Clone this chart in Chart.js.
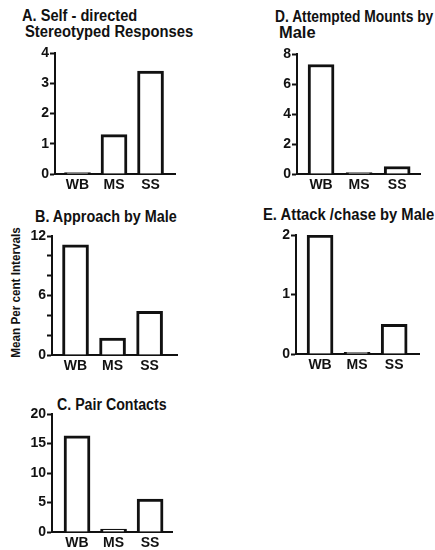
<!DOCTYPE html>
<html>
<head>
<meta charset="utf-8">
<script src="https://cdn.jsdelivr.net/npm/chart.js@4/dist/chart.umd.min.js"></script>
<style>
  html, body { margin: 0; padding: 0; background: #fff; }
  body { width: 435px; height: 550px; position: relative; overflow: hidden;
         font-family: "Liberation Sans", Arial, sans-serif; }
  canvas { position: absolute; }
  .ttl { position: absolute; font-weight: bold; font-size: 16px; line-height: 16px; color: #111;
         white-space: nowrap; transform-origin: 0 50%; }
  .ylab { position: absolute; font-weight: bold; font-size: 13px; line-height: 13px; color: #111; white-space: nowrap; }
</style>
</head>
<body>
<div class="ttl" data-w="115" style="left:22px;top:8px;">A. Self - directed</div>
<div class="ttl" data-w="168" style="left:25px;top:24px;">Stereotyped Responses</div>
<div class="ttl" data-w="158" style="left:275px;top:9px;">D. Attempted Mounts by</div>
<div class="ttl" data-w="37" style="left:279px;top:25px;">Male</div>
<div class="ttl" data-w="142" style="left:35px;top:209px;">B. Approach by Male</div>
<div class="ttl" data-w="171" style="left:263px;top:207px;">E. Attack /chase by Male</div>
<div class="ttl" data-w="110" style="left:57px;top:397px;">C. Pair Contacts</div>
<div class="ylab" id="ylab" data-w="130">Mean Per cent Intervals</div>

<canvas id="cA"></canvas>
<canvas id="cB"></canvas>
<canvas id="cC"></canvas>
<canvas id="cD"></canvas>
<canvas id="cE"></canvas>

<script>
// Groups on the horizontal axis
const categories = ['WB', 'MS', 'SS'];

// Mean per cent intervals for each behaviour
const selfDirected = [0.05, 1.3, 3.4];
const approachByMale = [11.1, 1.7, 4.4];
const pairContacts = [16.3, 0.5, 5.6];
const attemptedMounts = [7.3, 0.1, 0.5];
const attackChase = [2.0, 0.03, 0.5];

// Vertical axis ranges: [max, tick step]
const axisA = [4, 1];
const axisB = [12, 2];
const axisC = [20, 5];
const axisD = [8, 2];
const axisE = [2, 1];
// Tick values that carry a number on panel B
const labelledB = [0, 6, 12];

// Squeeze the headings into a narrow, condensed look
document.querySelectorAll('.ttl').forEach(el => {
  const s = Number(el.dataset.w) / el.offsetWidth;
  el.style.transform = 'scaleX(' + s.toFixed(3) + ')';
});
(function () {
  const el = document.getElementById('ylab');
  const s = Number(el.dataset.w) / el.offsetWidth;
  const cx = 15, cy = 292;
  el.style.left = (cx - el.offsetWidth / 2) + 'px';
  el.style.top = (cy - el.offsetHeight / 2) + 'px';
  el.style.transform = 'rotate(-90deg) scaleX(' + s.toFixed(3) + ')';
})();

const Y_W = 32, X_H = 24, PAD_T = 10, PAD_R = 4;
const FONT = '"Liberation Sans", Arial, sans-serif';

function panel(id, values, axis, box, tickLabel) {
  // box: axis left x, top y (max), bottom y (zero), right x, x range min/max
  const cv = document.getElementById(id);
  const w = Y_W + (box.right - box.left) + PAD_R;
  const h = PAD_T + (box.bottom - box.top) + X_H;
  cv.width = w; cv.height = h;
  cv.style.left = (box.left - Y_W) + 'px';
  cv.style.top = (box.top - PAD_T) + 'px';
  cv.style.width = w + 'px'; cv.style.height = h + 'px';

  new Chart(cv, {
    type: 'bar',
    data: {
      datasets: [{
        data: categories.map((c, i) => ({ x: i + 1, y: values[i] })),
        backgroundColor: '#ffffff',
        borderColor: '#111111',
        borderWidth: 3,
        borderSkipped: 'bottom',
        barThickness: 26
      }]
    },
    options: {
      responsive: false,
      animation: false,
      devicePixelRatio: 1,
      layout: { padding: { top: PAD_T, right: PAD_R, left: 0, bottom: 0 } },
      plugins: { legend: { display: false }, tooltip: { enabled: false }, title: { display: false } },
      scales: {
        x: {
          type: 'linear',
          offset: false,
          min: box.xmin, max: box.xmax,
          afterFit: s => { s.height = X_H; },
          afterBuildTicks: s => { s.ticks = categories.map((c, i) => ({ value: i + 1 })); },
          grid: { display: false, drawTicks: false },
          border: { display: true, color: '#111', width: 2 },
          ticks: {
            autoSkip: false, maxRotation: 0, padding: 3, color: '#111',
            font: { family: FONT, size: 14, weight: 'bold' },
            callback: v => categories[v - 1] || ''
          }
        },
        y: {
          min: 0, max: axis[0],
          afterFit: s => { s.width = Y_W; },
          grid: { drawOnChartArea: false, drawTicks: true, tickLength: 5, tickColor: '#111', tickWidth: 2 },
          border: { display: true, color: '#111', width: 2 },
          ticks: {
            stepSize: axis[1], padding: 1, color: '#111',
            font: { family: FONT, size: 14, weight: 'bold' },
            callback: tickLabel || (v => v)
          }
        }
      }
    }
  });
}

panel('cA', selfDirected, axisA, { left: 55, top: 53, bottom: 174, right: 175, xmin: 0.384, xmax: 3.67 });
panel('cB', approachByMale, axisB, { left: 52, top: 236, bottom: 355, right: 177, xmin: 0.365, xmax: 3.74 },
      v => labelledB.includes(v) ? v : '');
panel('cC', pairContacts, axisC, { left: 52, top: 414, bottom: 532, right: 172, xmin: 0.315, xmax: 3.60 });
panel('cD', attemptedMounts, axisD, { left: 297, top: 54, bottom: 174, right: 420, xmin: 0.368, xmax: 3.60 });
panel('cE', attackChase, axisE, { left: 296, top: 235, bottom: 354, right: 419, xmin: 0.351, xmax: 3.67 });
</script>
</body>
</html>
